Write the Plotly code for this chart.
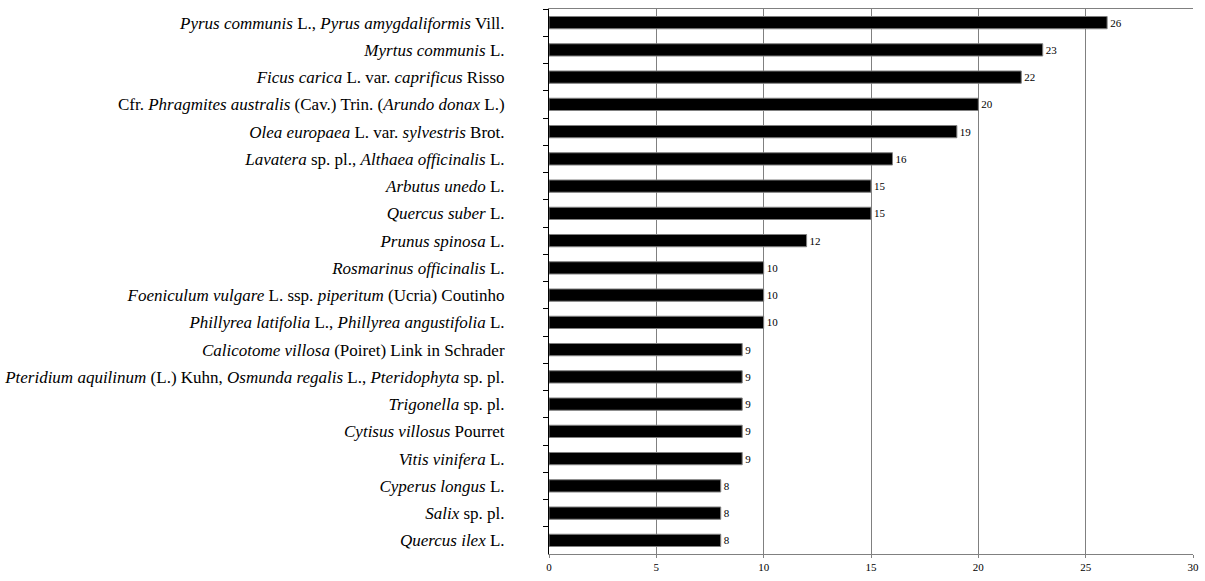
import plotly.graph_objects as go

species = [
    "<i>Pyrus communis</i> L., <i>Pyrus amygdaliformis</i> Vill.",
    "<i>Myrtus communis</i> L.",
    "<i>Ficus carica</i> L. var. <i>caprificus</i> Risso",
    "Cfr. <i>Phragmites australis</i> (Cav.) Trin. (<i>Arundo donax</i> L.)",
    "<i>Olea europaea</i> L. var. <i>sylvestris</i> Brot.",
    "<i>Lavatera</i> sp. pl., <i>Althaea officinalis</i> L.",
    "<i>Arbutus unedo</i> L.",
    "<i>Quercus suber</i> L.",
    "<i>Prunus spinosa</i> L.",
    "<i>Rosmarinus officinalis</i> L.",
    "<i>Foeniculum vulgare</i> L. ssp. <i>piperitum</i> (Ucria) Coutinho",
    "<i>Phillyrea latifolia</i> L., <i>Phillyrea angustifolia</i> L.",
    "<i>Calicotome villosa</i> (Poiret) Link in Schrader",
    "<i>Pteridium aquilinum</i> (L.) Kuhn, <i>Osmunda regalis</i> L., <i>Pteridophyta</i> sp. pl.",
    "<i>Trigonella</i> sp. pl.",
    "<i>Cytisus villosus</i> Pourret",
    "<i>Vitis vinifera</i> L.",
    "<i>Cyperus longus</i> L.",
    "<i>Salix</i> sp. pl.",
    "<i>Quercus ilex</i> L.",
]
counts = [26, 23, 22, 20, 19, 16, 15, 15, 12, 10, 10, 10, 9, 9, 9, 9, 9, 8, 8, 8]
x_ticks = [0, 5, 10, 15, 20, 25, 30]

SERIF = "Liberation Serif, Times New Roman, DejaVu Serif, serif"

fig = go.Figure(go.Bar(
    x=counts, y=species, orientation="h",
    marker=dict(color="black", line=dict(color="#808080", width=1)),
    text=[str(c) for c in counts], textposition="outside",
    textfont=dict(family=SERIF, size=11, color="black"),
    cliponaxis=False,
))

fig.update_layout(
    width=1205, height=581,
    margin=dict(l=549, r=12, t=9, b=27),
    paper_bgcolor="white", plot_bgcolor="white",
    bargap=0.55, showlegend=False,
    font=dict(family=SERIF, color="black"),
)
fig.update_xaxes(
    range=[0, 30], tickvals=x_ticks, showgrid=True, gridcolor="#808080", gridwidth=1,
    showline=True, linecolor="#808080", mirror=True, zeroline=False,
    ticks="outside", ticklen=3, tickcolor="#808080", automargin=False,
    tickfont=dict(size=11, family=SERIF),
)
fig.update_yaxes(
    autorange="reversed", showline=True, linecolor="black", linewidth=1,
    ticks="outside", tickson="boundaries", ticklen=5, tickcolor="black",
    showgrid=False, tickfont=dict(size=17, family=SERIF),
    ticklabelstandoff=40, automargin=False,
)

fig.write_html("out.html", config={"displayModeBar": False},
               post_script="document.body.style.margin='0';")
